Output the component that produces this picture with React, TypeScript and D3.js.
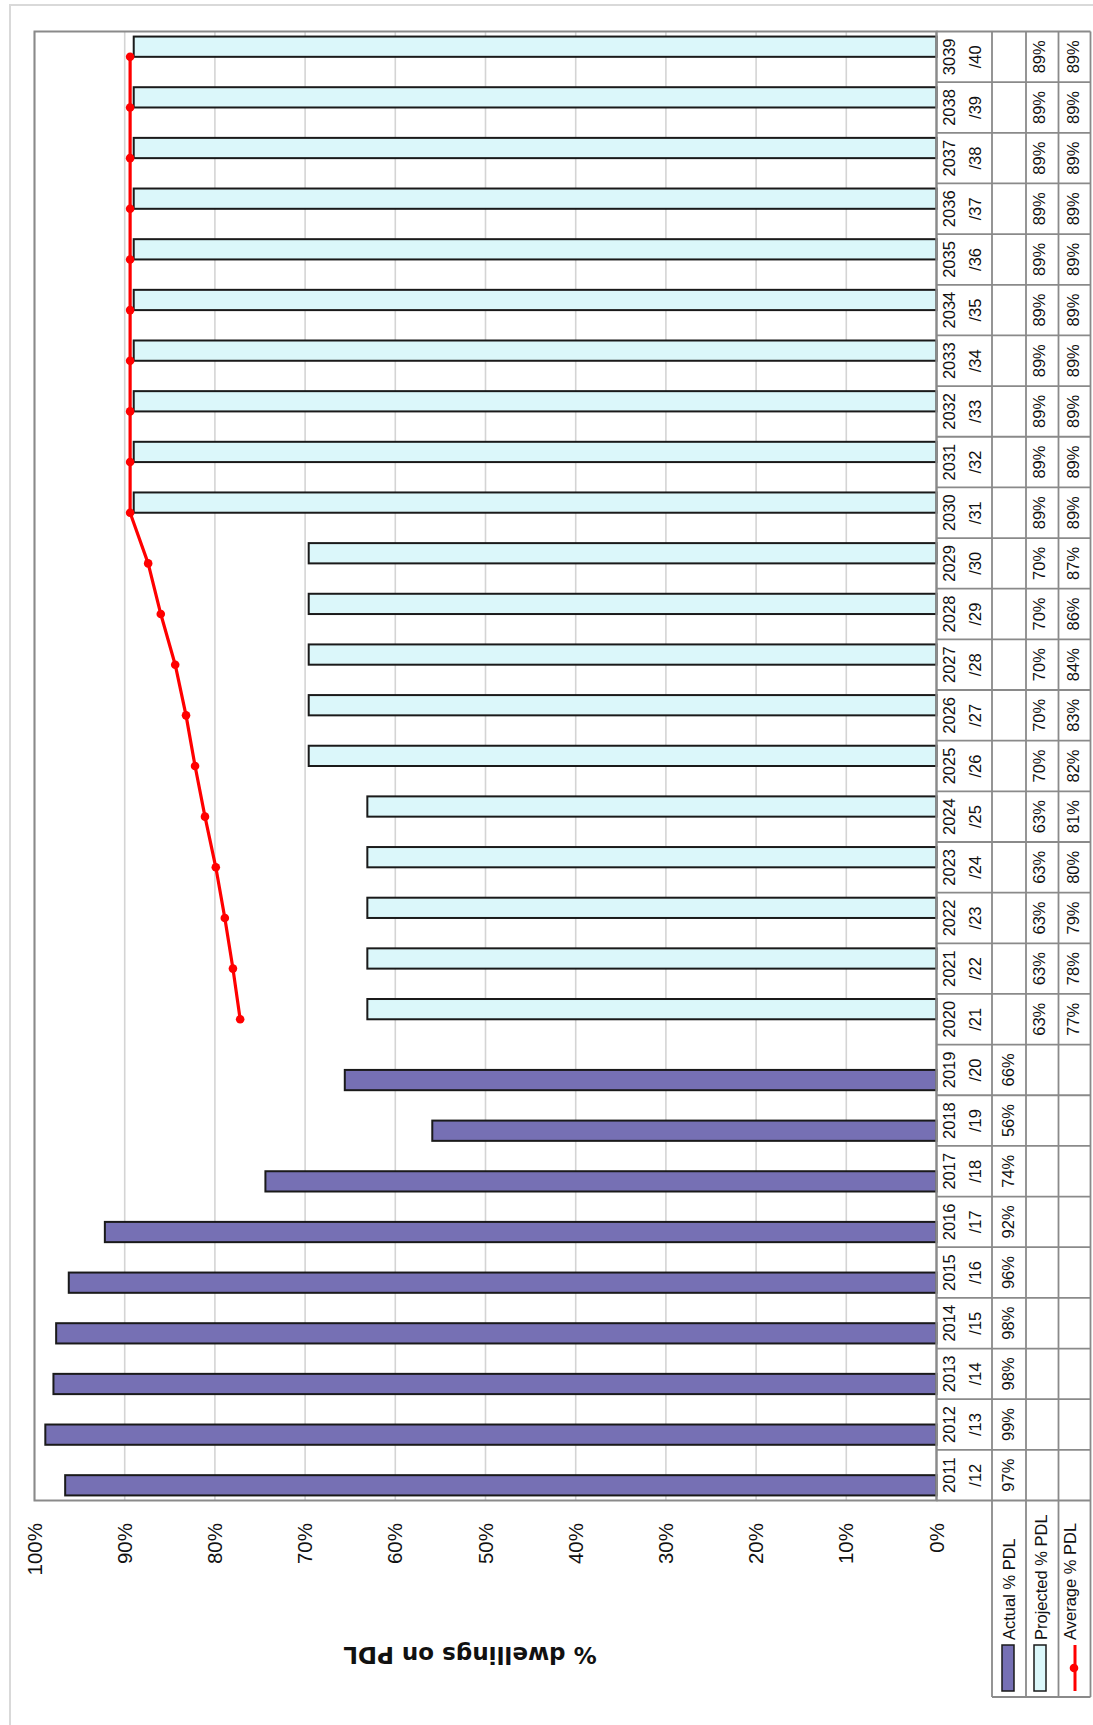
import React from 'react';
import * as d3 from 'd3';

const categoryYears = ['2011','2012','2013','2014','2015','2016','2017','2018','2019','2020','2021','2022','2023','2024','2025','2026','2027','2028','2029','2030','2031','2032','2033','2034','2035','2036','2037','2038','3039'];
const categorySuffixes = ['/12','/13','/14','/15','/16','/17','/18','/19','/20','/21','/22','/23','/24','/25','/26','/27','/28','/29','/30','/31','/32','/33','/34','/35','/36','/37','/38','/39','/40'];
const actualPDL: (number | null)[] = [96.6, 98.8, 97.9, 97.6, 96.2, 92.2, 74.4, 55.9, 65.6, null, null, null, null, null, null, null, null, null, null, null, null, null, null, null, null, null, null, null, null];
const projectedPDL: (number | null)[] = [null, null, null, null, null, null, null, null, null, 63.1, 63.1, 63.1, 63.1, 63.1, 69.6, 69.6, 69.6, 69.6, 69.6, 89.0, 89.0, 89.0, 89.0, 89.0, 89.0, 89.0, 89.0, 89.0, 89.0];
const averagePDL: (number | null)[] = [null, null, null, null, null, null, null, null, null, 77.2, 78.0, 78.9, 79.9, 81.1, 82.2, 83.2, 84.4, 86.0, 87.4, 89.4, 89.4, 89.4, 89.4, 89.4, 89.4, 89.4, 89.4, 89.4, 89.4];
const valueTicks = [0, 10, 20, 30, 40, 50, 60, 70, 80, 90, 100];
const seriesNames = ['Actual % PDL', 'Projected % PDL', 'Average % PDL'];
const axisTitle = '% dwellings on PDL';

const W = 1093;
const H = 1725;
const FONT = "'Liberation Sans', Arial, sans-serif";
const ACTUAL_FILL = '#7670B4';
const PROJ_FILL = '#DBF7FA';
const RED = '#FF0000';
const GRID = '#d4d4d4';
const BORDER = '#8a8a8a';

export default function App() {
  const cats = categoryYears.map((yv, i) => yv + categorySuffixes[i]);
  const x = d3.scaleLinear().domain([0, 100]).range([936.5, 34.5]);
  const y = d3.scaleBand<string>().domain(cats).range([1500.5, 31.5]);
  const bw = y.bandwidth();
  const sub = d3.scaleBand<string>().domain(['Projected', 'Actual']).range([0, bw]).paddingInner(0).paddingOuter(0.25);
  const sbw = sub.bandwidth();
  const cy = (c: string) => (y(c) as number) + bw / 2;

  const colX = [936.5, 992, 1026, 1058.5, 1090.5];
  const valueTextX = [1008, 1039.5, 1073];
  const tableTop = 31.5;
  const tableBottom = 1500.5;
  const legendBottom = 1697;

  const linePts: [number, number][] = [];
  cats.forEach((c, i) => {
    const v = averagePDL[i];
    if (v != null) linePts.push([x(v), cy(c)]);
  });
  const lineGen = d3.line<[number, number]>().x(d => d[0]).y(d => d[1]);

  const fmt = (v: number | null) => (v == null ? '' : `${Math.round(v)}%`);
  const rows = [actualPDL, projectedPDL, averagePDL];

  return (
    <svg width={W} height={H} style={{ position: 'absolute', left: 0, top: 0, background: '#fff' }} fontFamily={FONT}>
      <rect x={0} y={0} width={W} height={H} fill="#fff" />
      {/* chart area border */}
      <rect x={10} y={5} width={W + 20} height={H + 20} fill="none" stroke="#d9d9d9" strokeWidth={2} />

      {/* gridlines */}
      {valueTicks.map(t => (
        <line key={'g' + t} x1={x(t)} x2={x(t)} y1={31.5} y2={1500.5} stroke={GRID} strokeWidth={1.6} />
      ))}

      {/* bars */}
      {cats.map((c, i) => {
        const a = actualPDL[i];
        const p = projectedPDL[i];
        const top = y(c) as number;
        return (
          <g key={'b' + c}>
            {a != null && (
              <rect x={x(a)} y={top + (sub('Actual') as number)} width={x(0) - x(a)} height={sbw} fill={ACTUAL_FILL} stroke="#1a1a1a" strokeWidth={2} />
            )}
            {p != null && (
              <rect x={x(p)} y={top + (sub('Projected') as number)} width={x(0) - x(p)} height={sbw} fill={PROJ_FILL} stroke="#1a1a1a" strokeWidth={2} />
            )}
          </g>
        );
      })}

      {/* plot area border */}
      <rect x={34.5} y={31.5} width={936.5 - 34.5} height={1500.5 - 31.5} fill="none" stroke={BORDER} strokeWidth={2} />

      {/* average line */}
      <path d={lineGen(linePts) || ''} fill="none" stroke={RED} strokeWidth={3.2} strokeLinejoin="round" />
      {linePts.map((p, i) => (
        <circle key={'m' + i} cx={p[0]} cy={p[1]} r={4.3} fill={RED} />
      ))}

      {/* value tick labels */}
      {valueTicks.map(t => (
        <text key={'t' + t} transform={`translate(${x(t)},1523) rotate(-90)`} textAnchor="end" dy="0.35em" fontSize={20.5} fill="#111">
          {t}%
        </text>
      ))}

      {/* axis title (upside down) */}
      <text transform="translate(470,1655) rotate(180)" textAnchor="middle" dy="0.35em" fontSize={23} fontWeight="bold" fontFamily="'DejaVu Sans', sans-serif" fill="#111">
        {axisTitle}
      </text>

      {/* data table grid */}
      {colX.map((cx, i) => (
        <line key={'cv' + i} x1={cx} x2={cx} y1={tableTop} y2={i === 0 ? tableBottom : legendBottom} stroke={BORDER} strokeWidth={1.8} />
      ))}
      {cats.map(c => (
        <line key={'ch' + c} x1={colX[0]} x2={colX[4]} y1={y(c) as number} y2={y(c) as number} stroke={BORDER} strokeWidth={1.8} />
      ))}
      <line x1={colX[0]} x2={colX[4]} y1={tableBottom} y2={tableBottom} stroke={BORDER} strokeWidth={1.8} />
      <line x1={colX[1]} x2={colX[4]} y1={legendBottom} y2={legendBottom} stroke={BORDER} strokeWidth={1.8} />

      {/* category labels */}
      {cats.map((c, i) => (
        <g key={'cl' + c}>
          <text transform={`translate(949,${cy(c)}) rotate(-90)`} textAnchor="middle" dy="0.35em" fontSize={16.5} fill="#111">
            {categoryYears[i]}
          </text>
          <text transform={`translate(975.5,${cy(c)}) rotate(-90)`} textAnchor="middle" dy="0.35em" fontSize={16.5} fill="#111">
            {categorySuffixes[i]}
          </text>
        </g>
      ))}

      {/* table values */}
      {rows.map((row, r) =>
        cats.map((c, i) => {
          const s = fmt(row[i]);
          if (!s) return null;
          return (
            <text key={'v' + r + c} transform={`translate(${valueTextX[r]},${cy(c)}) rotate(-90)`} textAnchor="middle" dy="0.35em" fontSize={16.5} fill="#111">
              {s}
            </text>
          );
        })
      )}

      {/* legend keys */}
      <rect x={1002} y={1645} width={12} height={46} fill={ACTUAL_FILL} stroke="#1a1a1a" strokeWidth={1.5} />
      <rect x={1034} y={1645} width={12} height={46} fill={PROJ_FILL} stroke="#1a1a1a" strokeWidth={1.5} />
      <line x1={1075} x2={1075} y1={1645} y2={1691} stroke={RED} strokeWidth={3} />
      <circle cx={1074} cy={1668} r={4.3} fill={RED} />
      {seriesNames.map((n, i) => (
        <text key={'ln' + i} transform={`translate(${[1009, 1041, 1070.5][i]},1640) rotate(-90)`} textAnchor="start" dy="0.35em" fontSize={16.5} fill="#111">
          {n}
        </text>
      ))}
    </svg>
  );
}
